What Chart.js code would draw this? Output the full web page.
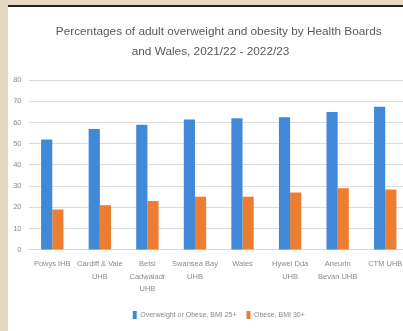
<!DOCTYPE html>
<html lang="en">
<head>
	<meta charset="UTF-8">
	<title>Overweight and obesity by Health Board</title>
	<style>
		html, body { margin: 0; padding: 0; }
		body {
			width: 403px; height: 331px; overflow: hidden;
			background: #e4d8c2; position: relative;
		}
		#topline { position: absolute; left: 8px; top: 5px; width: 400px; height: 2px; background: #222; }
		#panel { position: absolute; left: 8px; top: 7px; width: 400px; height: 330px; background: #fff; }
		#wrap { position: absolute; left: 9px; top: 8px; width: 414px; height: 323px; }
	</style>
</head>
<body>
	<div id="topline"></div>
	<div id="panel"></div>
	<div id="wrap"><canvas id="chart"></canvas></div>

	<script src="https://cdn.jsdelivr.net/npm/chart.js"></script>
	<script>
		// data
		const boards = [
			['Powys tHB'],
			['Cardiff & Vale', 'UHB'],
			['Betsi', 'Cadwaladr', 'UHB'],
			['Swansea Bay', 'UHB'],
			['Wales'],
			['Hywel Dda', 'UHB'],
			['Aneurin', 'Bevan UHB'],
			['CTM UHB']
		];
		const overweight = [52, 57, 59, 61.5, 62, 62.5, 65, 67.5];
		const obese = [19, 21, 23, 25, 25, 27, 29, 28.5];
		const yTicks = [0, 10, 20, 30, 40, 50, 60, 70, 80];

		const grey = '#8a8a8a';
		const font = 'Liberation Sans, Arial, sans-serif';
		const ctx = document.getElementById('chart').getContext('2d');
		new Chart(ctx, {
			type: 'bar',
			data: {
				labels: boards,
				datasets: [
					{ label: 'Overweight or Obese, BMI 25+', data: overweight, backgroundColor: '#4089d8' },
					{ label: 'Obese, BMI 30+', data: obese, backgroundColor: '#ed7d31' }
				]
			},
			options: {
				responsive: true,
				maintainAspectRatio: false,
				animation: false,
				layout: { padding: { left: 0, right: 14, top: 4, bottom: 2 } },
				datasets: { bar: { barPercentage: 1, categoryPercentage: 0.47 } },
				scales: {
					x: {
						grid: { display: false },
						border: { color: '#d9d9d9' },
						afterFit: (s) => { s.height += 6; },
						ticks: { color: grey, font: { family: font, size: 7.5, lineHeight: 1.65 }, maxRotation: 0, autoSkip: false, padding: 0 }
					},
					y: {
						min: 0, max: 80,
						afterBuildTicks: (s) => { s.ticks = yTicks.map(v => ({ value: v })); },
						afterFit: (s) => { s.width = 19.5; },
						grid: { color: '#dcdcdc', drawTicks: false },
						border: { display: false },
						ticks: { color: grey, font: { family: font, size: 7.5 }, padding: 7 }
					}
				},
				plugins: {
					title: {
						display: true,
						fullSize: false,
						text: ['Percentages of adult overweight and obesity by Health Boards', 'and Wales, 2021/22 - 2022/23     '],
						color: '#595959',
						font: { family: font, size: 11.8, weight: 'normal', lineHeight: 1.7 },
						padding: { top: 10, bottom: 18 }
					},
					legend: {
						position: 'bottom',
						fullSize: false,
						labels: { color: grey, boxWidth: 4, boxHeight: 8, font: { family: font, size: 7 }, padding: 10 }
					},
					tooltip: { enabled: false }
				}
			}
		});
	</script>
</body>
</html>
